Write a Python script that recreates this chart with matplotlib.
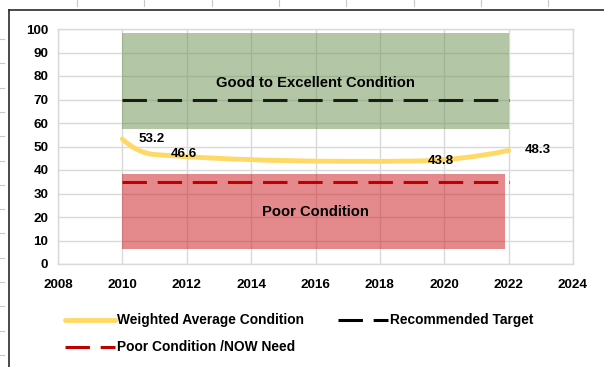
import numpy as np
import matplotlib
matplotlib.use("Agg")
import matplotlib.pyplot as plt
from matplotlib.path import Path
from matplotlib.patches import PathPatch
from matplotlib.lines import Line2D

# ---- data ----
years = [2010, 2011, 2019, 2022]
condition = [53.2, 46.6, 43.8, 48.3]
value_labels = ["53.2", "46.6", "43.8", "48.3"]

target_years = [2010, 2022]
target_values = [70, 70]
poor_years = [2010, 2022]
poor_values = [35, 35]

good_band_years = [2010, 2022]
good_band_low, good_band_high = 57.5, 98.5
poor_band_years = [2010, 2021.9]
poor_band_low, poor_band_high = 6.3, 38.3

x_ticks = list(range(2008, 2025, 2))
y_ticks = list(range(0, 101, 10))

series_names = ["Weighted Average Condition", "Recommended Target",
                "Poor Condition /NOW Need"]

# ---- styling ----
plt.rcParams["font.family"] = ["Liberation Sans", "DejaVu Sans"]
plt.rcParams["font.weight"] = "bold"

W, H = 604, 367
fig = plt.figure(figsize=(W / 100, H / 100), dpi=100)


def fx(px):
    return px / W


def fy(py):
    return 1 - py / H


left, right, top, bottom = 58, 573, 29, 264
ax = fig.add_axes([fx(left), fy(bottom), fx(right) - fx(left), fy(top) - fy(bottom)])
ax.set_xlim(2008, 2024)
ax.set_ylim(0, 100)
ax.set_xticks(x_ticks)
ax.set_yticks(y_ticks)
ax.tick_params(length=0, labelsize=9.7)
ax.tick_params(axis="y", pad=7)
ax.tick_params(axis="x", pad=11)
for lab in ax.get_xticklabels() + ax.get_yticklabels():
    lab.set_fontweight("bold")
grid_col = "#D9D9D9"
ax.grid(True, color=grid_col, lw=1)
ax.set_axisbelow(True)
for s in ax.spines.values():
    s.set_color(grid_col)
    s.set_linewidth(1)

# condition bands
ax.fill_between(good_band_years, good_band_low, good_band_high,
                color=(105 / 255, 145 / 255, 79 / 255), alpha=0.5, lw=0, zorder=2)
ax.fill_between(poor_band_years, poor_band_low, poor_band_high,
                color=(203 / 255, 23 / 255, 27 / 255), alpha=0.5, lw=0, zorder=2)

ax.text(2016, 77.2, "Good to Excellent Condition", ha="center", va="center",
        fontsize=10.6, fontweight="bold", zorder=5)
ax.text(2016, 22.3, "Poor Condition", ha="center", va="center",
        fontsize=10.6, fontweight="bold", zorder=5)

dash = (8, 3.5)
ax.plot(target_years, target_values, color="black", alpha=0.85, lw=2.2,
        dashes=dash, zorder=3)
ax.plot(poor_years, poor_values, color="#C00000", lw=2.2, dashes=dash, zorder=3)


def smooth_path(ax, xs, ys):
    """Cubic Bezier through the points, tangents scaled by segment length."""
    pts = ax.transData.transform(np.column_stack([xs, ys]))
    n = len(pts)

    def unit(v):
        return v / np.hypot(*v)

    tang = [None] * n
    for i in range(1, n - 1):
        tang[i] = unit(pts[i + 1] - pts[i - 1])
    tang[0] = unit(2 * unit(pts[1] - pts[0]) - tang[1])
    tang[-1] = unit(2 * unit(pts[-1] - pts[-2]) - tang[-2])
    verts = [pts[0]]
    codes = [Path.MOVETO]
    for i in range(n - 1):
        seg = np.hypot(*(pts[i + 1] - pts[i]))
        verts += [pts[i] + tang[i] * seg / 3,
                  pts[i + 1] - tang[i + 1] * seg / 3,
                  pts[i + 1]]
        codes += [Path.CURVE4] * 3
    verts = ax.transData.inverted().transform(np.array(verts))
    return Path(verts, codes)


yellow = "#FFD966"
ax.add_patch(PathPatch(smooth_path(ax, years, condition), fill=False,
                       edgecolor=yellow, lw=3.5, capstyle="round", zorder=4))

for x, y, t in zip(years, condition, value_labels):
    ax.annotate(t, (x, y), xytext=(11.3, 0), textcoords="offset points",
                ha="left", va="center", fontsize=9.6, fontweight="bold", zorder=6)

# ---- legend ----
def legend_entry(x0, y, name, **style):
    fig.add_artist(Line2D([fx(x0), fx(x0 + 50)], [fy(y), fy(y)], **style))
    fig.text(fx(x0 + 52), fy(y), name, ha="left", va="center",
             fontsize=9.9, fontweight="bold")


legend_entry(65, 320, series_names[0], color=yellow, lw=3.5,
             solid_capstyle="round")
legend_entry(338, 320, series_names[1], color="black", lw=2.2, dashes=dash)
legend_entry(65, 347, series_names[2], color="#C00000", lw=2.2, dashes=dash)

# ---- sheet frame ----
frame = "#2A2A2A"
fig.add_artist(Line2D([fx(9), fx(9)], [fy(10), 0], color=frame, lw=1.2))
fig.add_artist(Line2D([fx(9), 1], [fy(10), fy(10)], color=frame, lw=1.2))
cell = "#C8C8C8"
for k in range(14):
    yy = 39 + 24.3 * k
    fig.add_artist(Line2D([0, fx(4)], [fy(yy), fy(yy)], color=cell, lw=0.8))
for k in range(8):
    xx = 77 + 67.3 * k
    fig.add_artist(Line2D([fx(xx), fx(xx)], [1, fy(6)], color=cell, lw=0.8))

fig.savefig("out.png", dpi=100)
